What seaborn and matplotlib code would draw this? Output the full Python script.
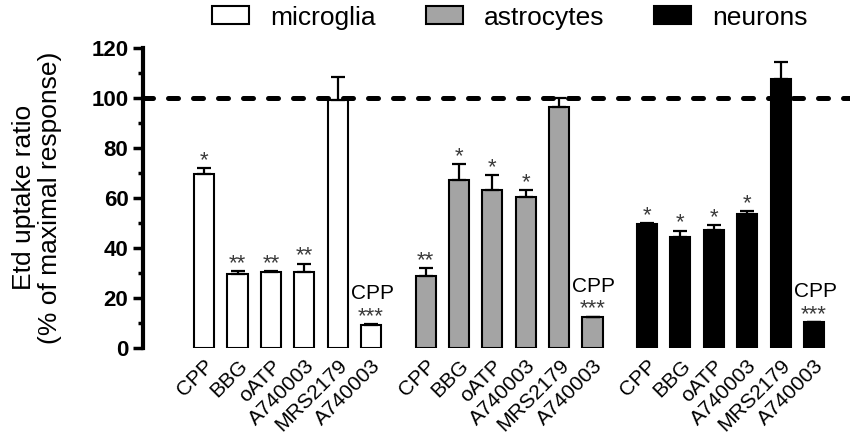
import matplotlib
matplotlib.use("Agg")
import matplotlib.pyplot as plt
from matplotlib.patches import Patch
from matplotlib.ticker import MultipleLocator
import numpy as np
import pandas as pd
import seaborn as sns

# values (mean and upper SEM, % of maximal response)
cell_types = ["microglia", "astrocytes", "neurons"]
treatments = ["CPP", "BBG", "oATP", "A740003", "MRS2179", "A740003"]
microglia_mean = [69.6, 29.5, 30.3, 30.4, 99.1, 9.0]
microglia_sem = [2.2, 1.2, 0.3, 3.2, 9.1, 0.3]
astrocytes_mean = [28.7, 67.1, 63.0, 60.4, 96.4, 12.2]
astrocytes_sem = [3.1, 6.3, 6.0, 2.7, 3.4, 0.2]
neurons_mean = [49.5, 44.2, 47.0, 53.6, 107.4, 10.3]
neurons_sem = [0.3, 2.6, 2.0, 1.1, 6.8, 0.0]
microglia_stars = ["*", "**", "**", "**", "", "***"]
astrocytes_stars = ["**", "*", "*", "*", "", "***"]
neurons_stars = ["*", "*", "*", "*", "", "***"]
max_response = 100

colors = {"microglia": "white", "astrocytes": "#a4a4a4", "neurons": "black"}
group_step = 6.63

means = [microglia_mean, astrocytes_mean, neurons_mean]
sems = [microglia_sem, astrocytes_sem, neurons_sem]
stars = [microglia_stars, astrocytes_stars, neurons_stars]

rows = []
for g, cell in enumerate(cell_types):
    for i, treat in enumerate(treatments):
        rows.append({"cell": cell, "treatment": treat,
                     "pos": g * group_step + i,
                     "value": means[g][i], "sem": sems[g][i],
                     "stars": stars[g][i], "last": i == len(treatments) - 1})
df = pd.DataFrame(rows)

sns.set_style("ticks")
plt.rcParams["font.family"] = ["Liberation Sans", "DejaVu Sans"]
plt.rcParams.update({"text.color": "black", "axes.labelcolor": "black",
                     "xtick.color": "black", "ytick.color": "black",
                     "axes.edgecolor": "black"})

fig = plt.figure(figsize=(8.5, 4.38), dpi=100)
ax = fig.add_axes([143 / 850, 90.3 / 438, 707 / 850, 300 / 438])

sns.barplot(data=df, x="pos", y="value", hue="cell", palette=colors,
            native_scale=True, dodge=False, width=0.6, edgecolor="black",
            linewidth=1.5, legend=False, ax=ax)

ax.errorbar(df["pos"], df["value"], yerr=[np.zeros(len(df)), df["sem"]],
            fmt="none", ecolor="black", elinewidth=1.6, capsize=5, capthick=1.6,
            zorder=3)

ax.axhline(max_response, color="black", lw=3.6, dashes=(2.0, 3.0),
           dash_capstyle="round", zorder=4)

for _, r in df.iterrows():
    top = r["value"] + r["sem"]
    if r["stars"]:
        ax.annotate(r["stars"], (r["pos"], top), xytext=(0, 1.5),
                    textcoords="offset points", ha="center", va="baseline",
                    fontsize=16, color="#3a3a3a")
    if r["last"]:
        ax.annotate("CPP", (r["pos"], top), xytext=(1, 18),
                    textcoords="offset points", ha="center", va="baseline",
                    fontsize=15)

ax.set_xlim(-1.83, 19.34)
ax.set_ylim(0, 120)
ax.set_xticks(df["pos"])
ax.set_xticklabels(df["treatment"], rotation=45, ha="right",
                   rotation_mode="anchor", fontsize=15)
ax.tick_params(axis="x", length=0, pad=6)
ax.yaxis.set_major_locator(MultipleLocator(20))
ax.yaxis.set_minor_locator(MultipleLocator(10))
ax.tick_params(axis="y", which="major", length=7, width=2.5, pad=3.5,
               labelsize=16)
ax.tick_params(axis="y", which="minor", length=3.6, width=2.5)
for lab in ax.get_yticklabels():
    lab.set_fontweight("bold")
ax.set_xlabel("")
ax.set_ylabel("Etd uptake ratio\n(% of maximal response)", fontsize=19,
              labelpad=21, linespacing=1.1)

sns.despine(ax=ax, bottom=True)
ax.spines["left"].set_linewidth(3)

handles = [Patch(facecolor=colors[c], edgecolor="black", linewidth=1.5, label=c)
           for c in cell_types]
fig.legend(handles=handles, loc="center", bbox_to_anchor=(0.6, 0.96),
           ncol=3, frameon=False, fontsize=19, handlelength=1.4,
           handleheight=0.65, handletextpad=0.8, columnspacing=1.9)

fig.savefig("out.png", dpi=100)
